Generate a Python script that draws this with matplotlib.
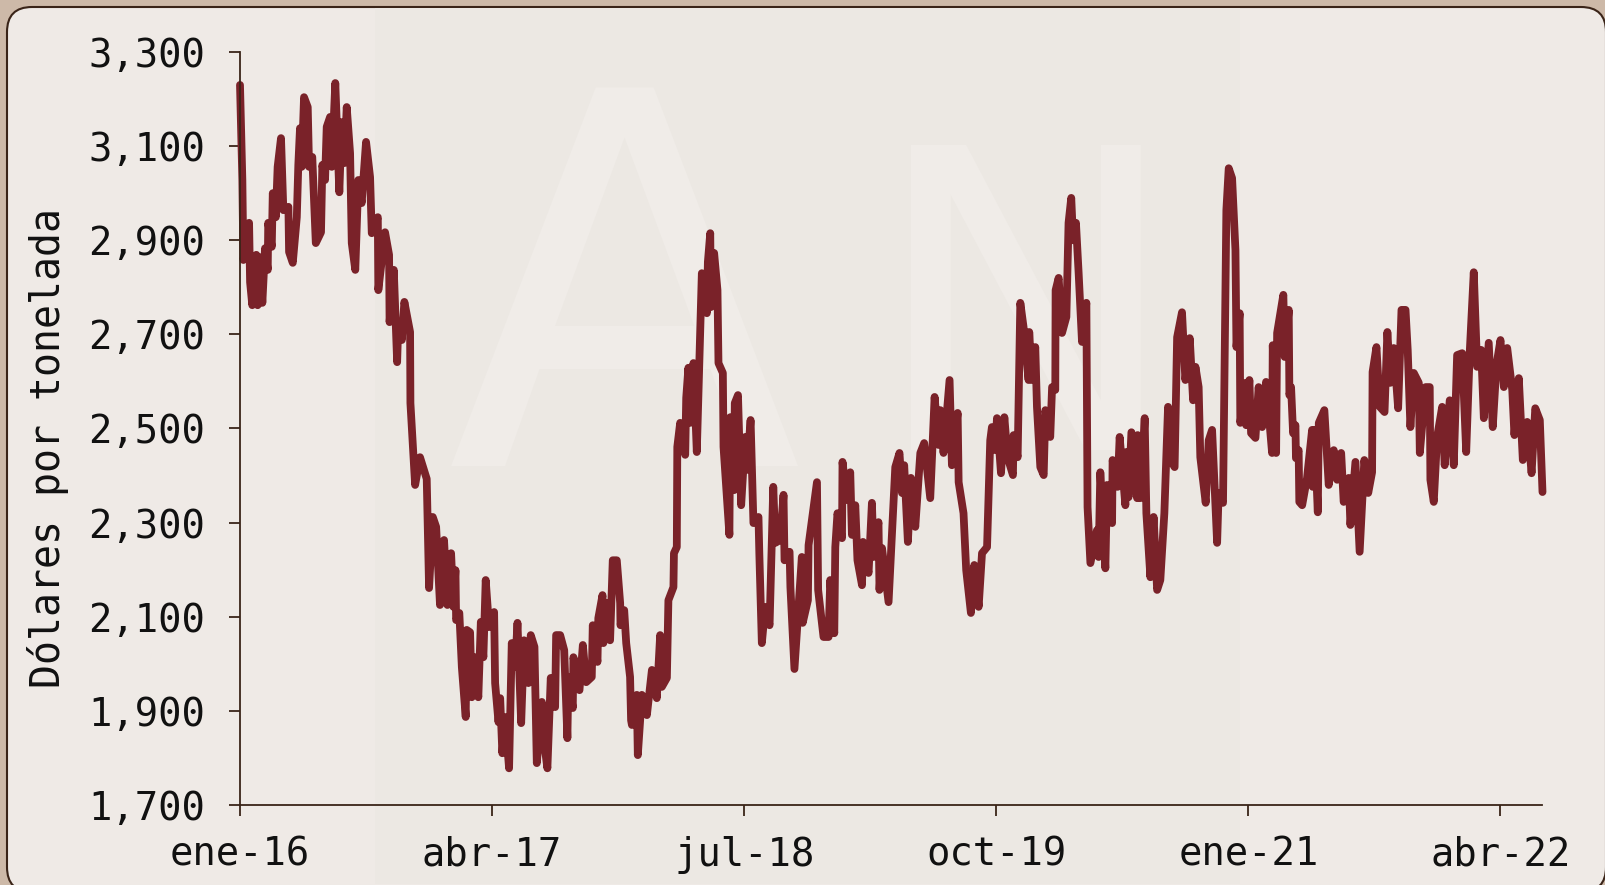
import matplotlib
matplotlib.use("Agg")
import matplotlib.pyplot as plt
from matplotlib.patches import FancyBboxPatch, Rectangle
from matplotlib.ticker import FuncFormatter

# Months elapsed since ene-16
meses = [
    0, .14, .20, .54, .60, .73, .97, 1.05, 1.19, 1.33, 1.49, 1.65, 1.68, 1.89, 1.95, 2.13, 2.24, 2.44, 2.58, 2.88,
    2.92, 3.14, 3.38, 3.47, 3.57, 3.67, 3.81, 4.03, 4.11, 4.30, 4.51, 4.82, 4.90, 5.06, 5.16, 5.36, 5.46, 5.67, 5.91, 6.05,
    6.21, 6.35, 6.55, 6.65, 6.86, 7.04, 7.24, 7.50, 7.74, 7.84, 8.20, 8.23, 8.63, 8.87, 8.90, 9.15, 9.35, 9.42, 9.63, 9.78,
    10.12, 10.14, 10.42, 10.71, 11.11, 11.25, 11.47, 11.67, 11.90, 12.14, 12.34, 12.56, 12.70, 12.82, 12.86, 13.05, 13.20, 13.43, 13.49, 13.69,
    13.79, 13.99, 14.18, 14.33, 14.48, 14.62, 14.82, 15.12, 15.18, 15.38, 15.48, 15.61, 15.77, 16.01, 16.17, 16.37, 16.51, 16.61, 16.73, 16.90,
    17.16, 17.30, 17.52, 17.66, 17.96, 18.15, 18.29, 18.49, 18.75, 18.81, 19.05, 19.29, 19.48, 19.54, 19.80, 19.84, 20.20, 20.40, 20.60, 20.93,
    20.99, 21.27, 21.32, 21.57, 21.62, 21.83, 22.02, 22.18, 22.42, 22.62, 22.64, 22.86, 22.98, 23.21, 23.27, 23.32, 23.61, 23.67, 23.91, 24.21,
    24.51, 24.80, 25.00, 25.10, 25.40, 25.49, 25.79, 25.82, 25.99, 26.02, 26.19, 26.49, 26.55, 26.68, 26.79, 26.98, 27.18, 27.48, 27.78, 27.84,
    27.98, 28.02, 28.21, 28.41, 28.47, 28.73, 28.77, 29.12, 29.17, 29.40, 29.44, 29.63, 29.82, 30.06, 30.16, 30.38, 30.55, 30.85, 30.90, 31.05,
    31.25, 31.51, 31.73, 31.85, 32.14, 32.34, 32.40, 32.70, 32.75, 32.99, 33.43, 33.48, 33.79, 33.83, 34.33, 34.40, 34.72, 35.02, 35.12, 35.36,
    35.42, 35.55, 35.82, 35.85, 36.11, 36.31, 36.41, 36.61, 36.74, 37.01, 37.07, 37.40, 37.60, 37.70, 37.99, 38.05, 38.20, 38.59, 38.99, 39.24,
    39.39, 39.52, 39.74, 39.92, 40.18, 40.48, 40.71, 41.07, 41.33, 41.57, 41.67, 41.86, 42.22, 42.36, 42.70, 42.76, 43.05, 43.21, 43.49, 43.69,
    43.95, 44.15, 44.45, 44.64, 44.74, 44.94, 45.04, 45.28, 45.48, 45.67, 45.99, 46.03, 46.27, 46.43, 46.62, 46.92, 46.96, 47.12, 47.32, 47.42,
    47.62, 47.82, 47.92, 48.21, 48.32, 48.51, 48.53, 48.71, 48.91, 49.17, 49.30, 49.46, 49.57, 49.74, 49.90, 50.10, 50.36, 50.43, 50.60, 50.99,
    51.09, 51.19, 51.49, 51.59, 51.89, 51.92, 52.22, 52.34, 52.68, 52.74, 52.87, 53.04, 53.38, 53.41, 53.57, 53.83, 53.93, 54.17, 54.36, 54.57,
    54.76, 55.00, 55.22, 55.46, 55.61, 55.76, 56.05, 56.25, 56.51, 56.71, 56.85, 57.04, 57.14, 57.46, 57.64, 57.84, 58.14, 58.23, 58.49, 58.69,
    58.83, 59.03, 59.23, 59.29, 59.48, 59.52, 59.82, 59.87, 60.06, 60.16, 60.42, 60.61, 60.82, 61.05, 61.41, 61.45, 61.65, 61.71, 62.08, 62.16,
    62.40, 62.44, 62.54, 62.66, 62.80, 62.83, 62.99, 63.03, 63.20, 63.49, 63.79, 63.83, 63.93, 64.13, 64.19, 64.52, 64.78, 65.08, 65.28, 65.52,
    65.67, 65.97, 66.07, 66.37, 66.62, 66.90, 67.13, 67.36, 67.39, 67.62, 67.82, 68.10, 68.27, 68.45, 68.65, 68.91, 69.11, 69.35, 69.48, 69.64,
    69.84, 70.14, 70.20, 70.54, 70.79, 70.83, 71.03, 71.23, 71.53, 71.68, 71.98, 72.22, 72.42, 72.72, 72.96, 73.17, 73.41, 73.61, 73.85, 74.01,
    74.30, 74.54, 74.76, 75.00, 75.20, 75.40, 75.70, 75.83, 76.09, 76.33, 76.59, 76.85, 77.07, 77.34, 77.50,
]

# Dollars per tonne at those months
precio = [
    3230, 3028, 2858, 2937, 2811, 2762, 2869, 2762, 2864, 2767, 2883, 2837, 2937, 2886, 3000, 2949, 3056, 3117, 2964, 2971,
    2875, 2852, 2949, 3060, 3138, 3056, 3204, 3183, 3056, 3077, 2894, 2917, 3060, 3028, 3141, 3162, 3056, 3234, 3002, 3151,
    3064, 3183, 3085, 2894, 2837, 3028, 2979, 3109, 3034, 2915, 2949, 2794, 2917, 2869, 2726, 2837, 2641, 2724, 2688, 2769,
    2705, 2554, 2380, 2439, 2393, 2161, 2312, 2291, 2125, 2263, 2125, 2235, 2121, 2199, 2093, 2108, 1993, 1887, 2072, 2067,
    1929, 2014, 1929, 2089, 2014, 2178, 2078, 2110, 1959, 1876, 1927, 1810, 1887, 1778, 2044, 1993, 2087, 1993, 1874, 2050,
    1959, 2061, 2036, 1789, 1919, 1817, 1778, 1970, 1908, 2061, 2061, 2029, 1842, 1972, 1906, 2014, 1944, 2040, 1961, 1972,
    2082, 2004, 2097, 2146, 2044, 2129, 2050, 2220, 2220, 2129, 2082, 2114, 2044, 1972, 1880, 1870, 1934, 1806, 1934, 1891,
    1987, 1927, 2061, 1951, 1970, 2135, 2163, 2235, 2248, 2461, 2512, 2444, 2565, 2629, 2512, 2639, 2450, 2830, 2745, 2854,
    2915, 2758, 2873, 2794, 2639, 2618, 2461, 2274, 2524, 2369, 2554, 2571, 2337, 2482, 2412, 2518, 2299, 2312, 2235, 2044,
    2121, 2082, 2376, 2257, 2263, 2359, 2220, 2238, 2163, 1989, 2227, 2087, 2135, 2252, 2386, 2157, 2057, 2057, 2178, 2065,
    2248, 2320, 2267, 2429, 2348, 2407, 2274, 2337, 2220, 2167, 2259, 2193, 2342, 2227, 2301, 2157, 2246, 2131, 2418, 2448,
    2363, 2422, 2259, 2395, 2291, 2448, 2469, 2352, 2567, 2465, 2539, 2448, 2603, 2422, 2533, 2386, 2320, 2199, 2108, 2210,
    2121, 2235, 2248, 2475, 2503, 2454, 2522, 2405, 2524, 2439, 2401, 2486, 2439, 2767, 2716, 2603, 2705, 2603, 2673, 2546,
    2418, 2401, 2539, 2482, 2588, 2582, 2794, 2820, 2703, 2737, 2937, 2990, 2900, 2937, 2830, 2684, 2767, 2333, 2214, 2284,
    2227, 2407, 2203, 2380, 2299, 2433, 2376, 2482, 2337, 2450, 2354, 2492, 2352, 2486, 2352, 2522, 2320, 2184, 2312, 2157,
    2178, 2320, 2546, 2427, 2418, 2694, 2747, 2603, 2692, 2560, 2631, 2588, 2439, 2342, 2475, 2497, 2257, 2363, 2342, 2964,
    3053, 3032, 2879, 2673, 2745, 2512, 2597, 2507, 2603, 2490, 2480, 2588, 2503, 2599, 2448, 2677, 2448, 2703, 2784, 2652,
    2752, 2571, 2588, 2490, 2507, 2437, 2454, 2344, 2337, 2395, 2497, 2376, 2497, 2322, 2512, 2539, 2380, 2454, 2391, 2448,
    2344, 2395, 2295, 2429, 2238, 2433, 2363, 2407, 2620, 2673, 2546, 2535, 2705, 2597, 2671, 2543, 2752, 2752, 2667, 2503,
    2618, 2597, 2448, 2588, 2588, 2391, 2344, 2482, 2546, 2422, 2560, 2422, 2656, 2660, 2450, 2662, 2832, 2631, 2667, 2522,
    2682, 2503, 2635, 2688, 2588, 2671, 2582, 2486, 2607, 2433, 2514, 2405, 2543, 2518, 2365,
]

tick_meses = [0, 15, 30, 45, 60, 75]
tick_etiquetas = ["ene-16", "abr-17", "jul-18", "oct-19", "ene-21", "abr-22"]
tick_precios = [1700, 1900, 2100, 2300, 2500, 2700, 2900, 3100, 3300]

W, H = 1606, 885
fig = plt.figure(figsize=(W / 100, H / 100), dpi=100, facecolor="#CDB9A8")

# Card and the faint picture behind the chart, in pixel coordinates
bg = fig.add_axes([0, 0, 1, 1])
bg.set_xlim(0, W)
bg.set_ylim(H, 0)
bg.axis("off")
card = FancyBboxPatch((32, 32), 1549, 835, boxstyle="round,pad=25,rounding_size=25",
                      fc="#EFEAE6", ec="#3A2418", lw=1.5)
bg.add_patch(card)
bg.add_patch(Rectangle((375, 8), 865, 876, fc="#ECE8E3", ec="none"))
bg.text(625, 323, "A", fontsize=374, color="#F0ECE8", ha="center", va="center", family="DejaVu Sans")
bg.text(1025, 335, "N", fontsize=300, color="#F0ECE8", ha="center", va="center", family="DejaVu Sans")

ax = fig.add_axes([240 / W, 1 - 805 / H, 1302.5 / W, 753 / H])
ax.patch.set_alpha(0)
ax.plot(meses, precio, color="#7A2229", lw=5.6, solid_joinstyle="round", solid_capstyle="round", clip_on=False)

ax.set_xlim(0, 77.5)
ax.set_ylim(1700, 3300)
ax.set_xticks(tick_meses)
ax.set_xticklabels(tick_etiquetas)
ax.set_yticks(tick_precios)
ax.yaxis.set_major_formatter(FuncFormatter(lambda v, _: f"{v:,.0f}"))

for side in ["top", "right"]:
    ax.spines[side].set_visible(False)
for side in ["left", "bottom"]:
    ax.spines[side].set_color("#3A2418")
    ax.spines[side].set_linewidth(1.3)
ax.tick_params(axis="both", length=8, width=1.3, color="#3A2418", labelcolor="#111111")
ax.tick_params(axis="y", pad=17)
ax.tick_params(axis="x", pad=14)
for lab in ax.get_xticklabels() + ax.get_yticklabels():
    lab.set_family("DejaVu Sans Mono")
    lab.set_fontsize(28)

ax.set_ylabel("Dólares por tonelada", family="DejaVu Sans Mono", fontsize=28.7, color="#111111")
ax.yaxis.set_label_coords(-0.131, 0.474)

fig.savefig("out.png", dpi=100, facecolor=fig.get_facecolor())
